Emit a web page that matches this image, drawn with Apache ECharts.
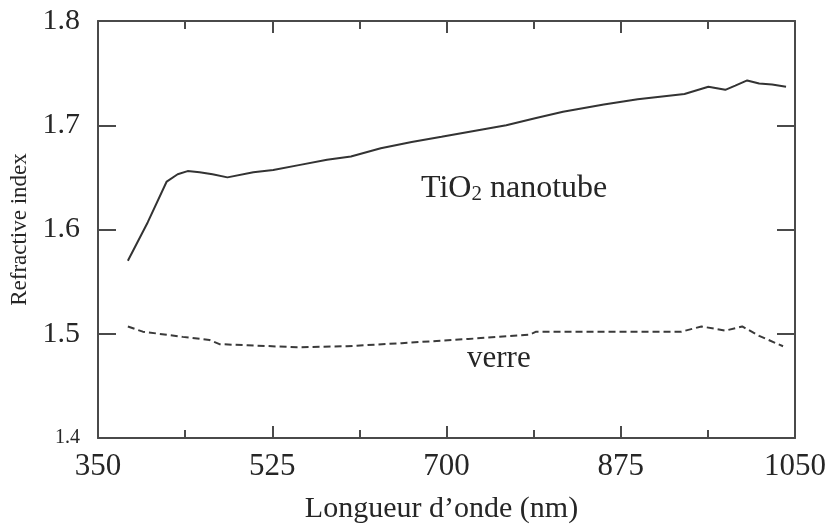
<!DOCTYPE html>
<html>
<head>
<meta charset="utf-8">
<script src="https://cdn.jsdelivr.net/npm/echarts@6/dist/echarts.min.js"></script>
<style>
  html, body { margin: 0; padding: 0; background: #ffffff; }
  #chart { width: 829px; height: 529px; }
</style>
</head>
<body>
<div id="chart"></div>
<script>
// Refractive index of a TiO2 nanotube film and of the glass substrate
const wavelengthTiO2 = [380, 400, 419, 430, 440, 452, 465, 480, 506, 526, 553, 580, 604, 634, 665, 695, 736, 760, 790, 817, 858, 892, 939, 963, 980, 990, 1002, 1014, 1027, 1041];
const indexTiO2 = [1.570, 1.607, 1.646, 1.653, 1.656, 1.655, 1.653, 1.650, 1.655, 1.657, 1.662, 1.667, 1.670, 1.678, 1.684, 1.689, 1.696, 1.700, 1.707, 1.713, 1.720, 1.725, 1.730, 1.737, 1.734, 1.738, 1.743, 1.740, 1.739, 1.737];

const wavelengthGlass = [380, 395, 435, 462, 472, 500, 550, 600, 655, 722, 783, 790, 850, 936, 956, 980, 997, 1014, 1038];
const indexGlass = [1.507, 1.502, 1.497, 1.494, 1.490, 1.489, 1.487, 1.488, 1.491, 1.495, 1.499, 1.502, 1.502, 1.502, 1.507, 1.503, 1.507, 1.498, 1.488];

const xTickLabels = [350, 525, 700, 875, 1050];
const yTickLabels = [1.4, 1.5, 1.6, 1.7, 1.8];

const xAxisTitle = 'Longueur d\u2019onde (nm)';
const yAxisTitle = 'Refractive index';
const tioLabel = ['TiO', '2', ' nanotube'];
const glassLabel = 'verre';

const pairs = (xs, ys) => xs.map((x, i) => [x, ys[i]]);

const FONT = 'Liberation Serif';
const INK = '#262626';
const FRAME = '#4a4a4a';

const chart = echarts.init(document.getElementById('chart'), null, { renderer: 'canvas' });

const frameLine = { show: true, lineStyle: { color: FRAME, width: 2 } };

chart.setOption({
  backgroundColor: '#ffffff',
  animation: false,
  textStyle: { fontFamily: FONT },
  grid: { left: 98, right: 34, top: 21, bottom: 91, outerBoundsMode: 'none', containLabel: false },
  xAxis: [
    {
      type: 'value', position: 'bottom',
      min: xTickLabels[0], max: xTickLabels[xTickLabels.length - 1], interval: 175,
      axisLine: frameLine,
      axisTick: { show: true, inside: true, length: 12, lineStyle: { color: FRAME, width: 2 } },
      minorTick: { show: true, splitNumber: 2, length: 8, lineStyle: { color: FRAME, width: 2 } },
      splitLine: { show: false },
      axisLabel: {
        show: true, margin: 13, color: INK, fontFamily: FONT, fontSize: 31,
        formatter: v => (xTickLabels.includes(v) ? String(v) : '')
      },
      name: xAxisTitle, nameLocation: 'middle', nameGap: 56,
      nameTextStyle: { color: INK, fontFamily: FONT, fontSize: 30, padding: [0, 10, 0, 0] }
    },
    {
      type: 'value', position: 'top',
      min: xTickLabels[0], max: xTickLabels[xTickLabels.length - 1], interval: 175,
      axisLine: frameLine,
      axisTick: { show: true, inside: true, length: 12, lineStyle: { color: FRAME, width: 2 } },
      minorTick: { show: true, splitNumber: 2, length: 8, lineStyle: { color: FRAME, width: 2 } },
      splitLine: { show: false },
      axisLabel: { show: false }
    }
  ],
  yAxis: [
    {
      type: 'value', position: 'left',
      min: yTickLabels[0], max: yTickLabels[yTickLabels.length - 1], interval: 0.1,
      axisLine: frameLine,
      axisTick: { show: true, inside: true, length: 18, lineStyle: { color: FRAME, width: 2 } },
      splitLine: { show: false },
      axisLabel: {
        show: true, margin: 18, color: INK, fontFamily: FONT, fontSize: 30,
        formatter: v => {
          const t = (Math.round(v * 10) / 10).toFixed(1);
          return Math.abs(v - yTickLabels[0]) < 1e-9 ? '{s|' + t + '}' : t;
        },
        rich: { s: { fontFamily: FONT, fontSize: 20, color: INK } }
      },
      name: yAxisTitle, nameLocation: 'middle', nameGap: 60, nameRotate: 90,
      nameTextStyle: { color: INK, fontFamily: FONT, fontSize: 23 }
    },
    {
      type: 'value', position: 'right',
      min: yTickLabels[0], max: yTickLabels[yTickLabels.length - 1], interval: 0.1,
      axisLine: frameLine,
      axisTick: { show: true, inside: true, length: 18, lineStyle: { color: FRAME, width: 2 } },
      splitLine: { show: false },
      axisLabel: { show: false }
    }
  ],
  series: [
    {
      name: 'TiO2 nanotube', type: 'line', xAxisIndex: 0, yAxisIndex: 0,
      data: pairs(wavelengthTiO2, indexTiO2),
      showSymbol: false, smooth: false,
      lineStyle: { color: '#333333', width: 2 }
    },
    {
      name: 'verre', type: 'line', xAxisIndex: 0, yAxisIndex: 0,
      data: pairs(wavelengthGlass, indexGlass),
      showSymbol: false, smooth: false,
      lineStyle: { color: '#3a3a3a', width: 2, type: [7, 4] }
    }
  ],
  graphic: [
    {
      type: 'text', left: 421, top: 173,
      style: {
        text: '{b|' + tioLabel[0] + '}{s|' + tioLabel[1] + '}{b|' + tioLabel[2] + '}',
        font: '32px "Liberation Serif"',
        rich: {
          b: { fontFamily: FONT, fontSize: 32, fill: INK, lineHeight: 32, verticalAlign: 'bottom' },
          s: { fontFamily: FONT, fontSize: 21, fill: INK, lineHeight: 17, verticalAlign: 'bottom' }
        }
      }
    },
    {
      type: 'text', left: 467, top: 343,
      style: { text: glassLabel, font: '31px "Liberation Serif"', fill: INK }
    }
  ]
});
</script>
</body>
</html>
